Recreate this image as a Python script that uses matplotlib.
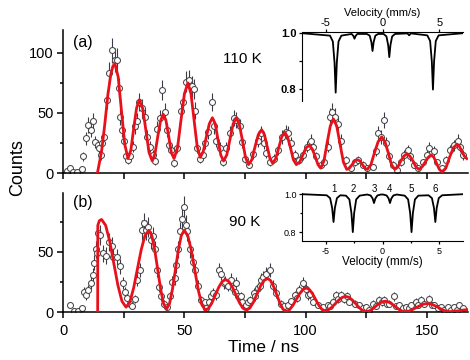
import numpy as np
import matplotlib
matplotlib.use('Agg')
import matplotlib.pyplot as plt
from matplotlib.ticker import MultipleLocator, FixedLocator

plt.rcParams['font.family'] = ['Liberation Sans', 'DejaVu Sans']

# ---- (a) 110 K : time spectrum, data points
t_a = [1.5, 2.9, 4.3, 5.8, 7.7, 8.4, 9.5, 10.4, 11.4, 12.5, 13.2, 14.3, 14.9, 15.5, 15.9, 16.8,
       18.2, 19.0, 20.3, 21.4, 22.3, 23.2, 23.7, 24.5, 25.3, 26.0, 26.9, 27.8, 28.7, 29.6, 30.6,
       31.4, 32.6, 33.7, 34.6, 35.8, 37.2, 38.0, 38.9, 39.9, 40.9, 42.0, 42.7, 43.6, 44.4, 45.8,
       47.2, 48.6, 49.5, 50.9, 51.9, 53.0, 53.9, 54.6, 55.4, 56.4, 57.7, 58.7, 59.8, 61.4, 62.3,
       63.2, 64.6, 66.0, 67.4, 68.7, 70.5, 71.4, 72.8, 73.8, 74.9, 76.5, 78.3, 80.4, 81.7, 82.7,
       83.8, 85.4, 86.8, 88.6, 90.4, 91.8, 92.7, 94.1, 95.5, 97.3, 98.9, 100.6, 102.1, 103.0,
       104.4, 106.2, 107.8, 109.2, 109.9, 111.0, 112.3, 113.3, 114.7, 116.7, 118.8, 120.6, 121.5,
       123.6, 125.5, 127.7, 129.1, 130.0, 131.1, 132.2, 133.2, 134.6, 135.9, 137.7, 139.4, 140.7,
       142.1, 143.2, 144.6, 146.5, 148.3, 150.1, 151.0, 152.8, 154.2, 156.1, 157.9, 159.7, 161.3,
       162.9, 163.8, 164.8]
counts_a = [2, 4, 0.5, 0.5, 3.5, 14, 29, 40, 36, 43, 26, 23, 21, 15, 25, 30,
            61, 83, 102, 94, 94, 71, 47, 36, 27, 14, 11, 14, 22, 39, 43,
            59, 54, 47, 30, 22, 15, 10, 37, 46, 69, 51, 36, 23, 19, 8,
            21, 52, 59, 76, 77, 72, 70, 52, 21, 12, 15, 25, 34, 59, 39,
            27, 21, 9, 21, 33, 46, 44, 39, 26, 12, 7, 16, 27, 33, 25,
            17, 9, 12, 19, 30, 34, 33, 25, 15, 11, 15, 22, 27, 22,
            14, 7, 9, 22, 47, 51, 47, 41, 27, 11, 4, 9, 11,
            7, 4, 5, 18, 33, 30, 44, 25, 14, 7, 2.5, 9, 15,
            19, 14, 7, 4, 9, 15, 21, 18, 9, 4, 11, 19, 23,
            27, 22, 15]

# (a) fit curve
fit_t_a = [14.2, 15.9, 17.2, 18.5, 19.7, 20.6, 21.4, 22.75, 24.1, 25.45, 26.8, 27.98, 29.15, 30.33,
           31.5, 32.83, 34.15, 35.48, 36.8, 37.93, 39.05, 40.18, 41.3, 42.43, 43.55, 44.68, 45.8,
           47.23, 48.65, 50.08, 51.5, 52.78, 54.05, 55.33, 56.6, 57.85, 59.1, 60.35, 61.6, 62.75,
           63.9, 65.05, 66.2, 67.53, 68.85, 70.18, 71.5, 72.75, 74.0, 75.25, 76.5, 77.85, 79.2,
           80.55, 81.9, 83.05, 84.2, 85.35, 86.5, 87.73, 88.95, 90.18, 91.4, 92.6, 93.8, 95.0,
           96.2, 97.55, 98.9, 100.25, 101.6, 102.78, 103.95, 105.13, 106.3, 107.6, 108.9, 110.2,
           111.5, 112.88, 114.25, 115.63, 117.0, 118.1, 119.2, 120.3, 121.4, 122.43, 123.45,
           124.48, 125.5, 126.98, 128.45, 129.93, 131.4, 132.75, 134.1, 135.45, 136.8, 138.05,
           139.3, 140.55, 141.8, 143.05, 144.3, 145.55, 146.8, 148.05, 149.3, 150.55, 151.8,
           152.93, 154.05, 155.18, 156.3, 157.85, 159.4, 160.95, 162.5, 163.5, 164.5, 165.5, 166.5]
fit_a = [0, 18, 40, 65, 82, 89, 91, 80, 52, 24, 12, 19, 37, 54,
         61, 54, 36, 17, 10, 16, 30, 43, 49, 44, 31, 17, 12,
         21, 44, 66, 75, 66, 44, 22, 13, 18, 30, 41, 46, 41,
         28, 15, 10, 15, 28, 41, 46, 40, 27, 13, 7, 11, 22,
         32, 36, 32, 22, 12, 8, 12, 21, 30, 34, 30, 21, 11,
         7, 9, 15, 21, 23, 20, 14, 7, 4, 10, 25, 39,
         45, 39, 24, 9, 3, 4, 7, 10, 11, 10, 7,
         4, 3, 7, 17, 26, 30, 26, 17, 7, 3, 5,
         10, 14, 16, 14, 10, 5, 3, 5, 9, 13, 15,
         13, 8, 3, 1, 4, 13, 21, 24, 22, 18, 14, 12]

# ---- (b) 90 K
t_b = [2.9, 4.5, 6.0, 7.7, 8.6, 9.5, 10.4, 11.4, 12.2, 12.9, 13.8, 14.1, 14.6, 15.2, 16.3, 17.7,
       19.0, 20.0, 20.7, 22.3, 23.5, 24.6, 25.5, 26.5, 27.6, 28.6, 29.6, 30.6, 31.7, 32.4, 33.3,
       34.2, 35.1, 36.1, 37.0, 37.9, 38.9, 39.7, 40.6, 41.6, 42.7, 44.0, 45.1, 46.1, 46.8, 47.4,
       48.1, 49.2, 49.8, 50.6, 51.2, 52.3, 53.4, 54.3, 55.7, 57.0, 58.4, 59.1, 60.3, 61.2, 61.8,
       63.0, 64.3, 65.3, 66.2, 67.0, 68.0, 69.1, 70.0, 70.8, 71.4, 72.2, 73.5, 73.8, 75.6, 76.3,
       77.0, 78.8, 79.0, 80.4, 81.1, 81.8, 82.4, 83.8, 85.5, 86.6, 88.0, 90.0, 91.0, 92.8, 94.0,
       95.5, 96.5, 97.5, 98.9, 100.0, 100.9, 102.0, 103.0, 105.1, 107.1, 109.2, 110.0, 111.2,
       112.6, 113.5, 114.7, 116.0, 117.0, 118.1, 120.2, 122.2, 123.5, 125.0, 126.3, 127.7, 129.0,
       130.5, 131.5, 132.5, 133.5, 134.6, 136.6, 137.5, 138.7, 140.0, 141.4, 142.5, 143.5, 145.5,
       146.5, 147.6, 149.0, 150.8, 152.0, 153.1, 154.5, 155.8, 157.0, 158.6, 160.0, 161.3, 162.5,
       163.4, 165.0]
counts_b = [6, 1, 1, 3.5, 17, 14, 18, 24, 31, 41, 52, 49, 66, 64, 49, 47,
            58, 55, 46, 46, 38, 24, 17, 12, 7, 5, 11, 27, 35, 68, 74,
            68, 71, 60, 63, 52, 35, 21, 13, 7, 4, 13, 25, 28, 39, 52,
            67, 77, 87, 72, 67, 52, 42, 35, 22, 10, 8, 3, 8, 13, 16,
            14, 35, 32, 24, 25, 22, 27, 20, 17, 24, 13, 13, 8.5, 6, 8.5,
            10, 16, 13, 20, 22, 27, 29, 32, 35, 22, 16, 7, 5, 6, 9,
            14, 12, 18, 24, 19, 14, 15, 8.5, 6, 4, 6, 5, 8.5,
            14, 11, 14, 11, 13, 8.5, 7, 6, 3, 4, 2, 7, 5,
            10, 8, 10, 7, 7, 13, 5, 6, 3, 4, 3, 6, 8.5,
            6, 10, 7, 11, 6, 6, 3, 4, 2, 4, 2, 4, 2,
            6, 3]

fit_t_b = [14.3, 14.35, 15.0, 15.9, 17.58, 19.27, 20.95, 22.63, 24.32, 26.0, 27.57, 29.13, 30.7,
           32.27, 33.83, 35.4, 36.62, 37.83, 39.05, 40.27, 41.48, 42.7, 43.92, 45.13, 46.35,
           47.57, 48.78, 50.0, 51.45, 52.9, 54.35, 55.8, 57.25, 58.7, 60.08, 61.47, 62.85, 64.23,
           65.62, 67.0, 68.43, 69.87, 71.3, 72.73, 74.17, 75.6, 77.05, 78.5, 79.95, 81.4, 82.85,
           84.3, 85.58, 86.87, 88.15, 89.43, 90.72, 92.0, 93.38, 94.77, 96.15, 97.53, 98.92,
           100.3, 101.58, 102.87, 104.15, 105.43, 106.72, 108.0, 109.43, 110.87, 112.3, 113.73,
           115.17, 116.6, 118.0, 119.4, 120.8, 122.2, 123.6, 125.0, 126.3, 127.6, 128.9, 130.2,
           131.5, 132.8, 134.17, 135.53, 136.9, 138.27, 139.63, 141.0, 142.55, 144.1, 145.65,
           147.2, 148.75, 150.3, 151.8, 153.3, 154.8, 156.3, 157.8, 159.3, 161.0, 163.0, 165.0, 167.0]
fit_b = [0, 72, 76, 77, 72.1, 58.8, 40.5, 22.3, 8.9, 4, 8.3, 20, 36,
         52, 63.7, 68, 63.6, 51.6, 35.3, 18.9, 6.9, 2.5, 6.9, 18.9, 35.3,
         51.6, 63.6, 68, 63.5, 51.4, 34.8, 18.1, 6.0, 1.5, 3.2, 7.9, 14.3, 20.6,
         25.3, 27, 25.3, 20.6, 14.3, 7.9, 3.2, 1.5, 3.3, 8.1, 14.8, 21.4, 26.2,
         28, 26.2, 21.1, 14.3, 7.4, 2.3, 0.5, 1.8, 5.4, 10.3, 15.1, 18.7,
         20, 18.7, 15.3, 10.5, 5.8, 2.3, 1, 1.8, 4, 7, 10,
         12.2, 13, 12.1, 9.8, 6.7, 3.5, 1.1, 0.3, 0.9, 2.5, 4.7, 6.8,
         8.4, 9, 8.4, 6.8, 4.7, 2.5, 0.9, 0.3, 0.7, 2.0, 3.7,
         5.3, 6.6, 7, 6.6, 5.3, 3.7, 2.0, 0.7, 0.3, 0.5, 1.0, 1.6, 2]

# ---- Moessbauer spectra in the insets
vel_a = [-7.2, -4.63, -4.38, -4.23, -4.13, -4.03, -3.88, -3.63, -2.72, -2.57, -2.47, -2.37, -2.22,
         -1.38, -1.13, -0.98, -0.88, -0.78, -0.63, -0.38, 0.1, 0.35, 0.5, 0.6, 0.7, 0.85, 1.1,
         2.2, 2.35, 2.5, 3.95, 4.2, 4.35, 4.45, 4.55, 4.7, 4.95, 7.2]
trans_a = [1.0, 0.991, 0.970, 0.894, 0.787, 0.894, 0.970, 0.991, 0.997, 0.99, 0.98, 0.99, 0.997,
           0.997, 0.991, 0.968, 0.936, 0.968, 0.991, 0.997, 0.997, 0.988, 0.957, 0.914, 0.957, 0.988, 0.997,
           0.999, 0.992, 0.999, 0.992, 0.972, 0.899, 0.798, 0.899, 0.972, 0.992, 1.0]

vel_b = [-7.2, -4.92, -4.62, -4.44, -4.32, -4.20, -4.02, -3.72, -3.22, -2.92, -2.74, -2.62, -2.5,
         -2.32, -2.02, -1.35, -1.05, -0.87, -0.75, -0.63, -0.45, -0.15, 0.06, 0.36, 0.54, 0.66,
         0.78, 0.96, 1.26, 1.96, 2.26, 2.44, 2.56, 2.68, 2.86, 3.16, 4.06, 4.36, 4.54, 4.66, 4.78,
         4.96, 5.26, 7.2]
trans_b = [1.0, 0.994, 0.979, 0.927, 0.853, 0.927, 0.979, 0.994, 0.992, 0.972, 0.9, 0.8, 0.9,
           0.972, 0.992, 0.998, 0.993, 0.977, 0.953, 0.977, 0.993, 0.998, 0.998, 0.993, 0.977, 0.953,
           0.977, 0.993, 0.998, 0.992, 0.972, 0.9, 0.8, 0.9, 0.972, 0.992, 0.994, 0.979, 0.927, 0.853, 0.927,
           0.979, 0.994, 1.0]
line_pos_b = [-4.32, -2.62, -0.75, 0.66, 2.56, 4.66]
line_names = ['1', '2', '3', '4', '5', '6']

fig = plt.figure(figsize=(4.7, 3.6), dpi=100)
ax1 = fig.add_axes([63/470, 1-173/360, 405/470, 143/360])
ax2 = fig.add_axes([63/470, 1-312/360, 405/470, 119/360])


def time_panel(ax, t, y, ft, fy, ymax):
    ax.errorbar(t, y, yerr=np.sqrt(y), fmt='none', ecolor='#3c3c48', elinewidth=0.8, zorder=1)
    ax.plot(t, y, 'o', ms=4.3, mfc='white', mec='#484848', mew=0.75, zorder=2)
    ax.plot(ft, fy, color='#e8101a', lw=2.0, zorder=3)
    ax.set_xlim(0, 167)
    ax.set_ylim(0, ymax)
    for s in ['top', 'right']:
        ax.spines[s].set_visible(False)
    for s in ['left', 'bottom']:
        ax.spines[s].set_linewidth(1.1)
    ax.xaxis.set_major_locator(MultipleLocator(50))
    ax.xaxis.set_minor_locator(MultipleLocator(25))
    ax.yaxis.set_major_locator(MultipleLocator(50))
    ax.yaxis.set_minor_locator(MultipleLocator(25))
    ax.tick_params(which='major', direction='out', length=4.5, width=1.1, labelsize=10.5, pad=2)
    ax.tick_params(which='minor', direction='out', width=1.1)
    ax.tick_params(axis='x', which='minor', length=4.5)
    ax.tick_params(axis='y', which='minor', length=2.5)


time_panel(ax1, t_a, counts_a, fit_t_a, fit_a, 119)
time_panel(ax2, t_b, counts_b, fit_t_b, fit_b, 99)
ax1.tick_params(axis='x', labelbottom=False)
ax2.tick_params(axis='x', pad=4)

ax1.text(0.025, 0.91, '(a)', transform=ax1.transAxes, fontsize=11.5, va='center')
ax1.text(0.395, 0.80, '110 K', transform=ax1.transAxes, fontsize=11, va='center')
ax2.text(0.025, 0.92, '(b)', transform=ax2.transAxes, fontsize=11.5, va='center')
ax2.text(0.41, 0.76, '90 K', transform=ax2.transAxes, fontsize=11, va='center')

fig.text(0.038, 0.535, 'Counts', rotation=90, ha='center', va='center', fontsize=13)
fig.text(0.56, 0.036, 'Time / ns', ha='center', va='center', fontsize=12.5)

# inset (a): velocity axis on top
ia = fig.add_axes([302/470, 1-101/360, 161/470, 69/360])
ia.patch.set_alpha(0)
ia.plot(vel_a, trans_a, color='black', lw=1.3)
ia.set_xlim(-7.1, 7.1)
ia.set_ylim(0.757, 1.004)
ia.spines['right'].set_visible(False)
ia.spines['bottom'].set_visible(False)
ia.xaxis.tick_top()
ia.xaxis.set_label_position('top')
ia.set_xlabel('Velocity (mm/s)', fontsize=8, labelpad=1.2)
ia.set_xticks([-5, 0, 5])
ia.set_xticklabels(['-5', '0', '5'])
ia.set_yticks([0.8, 1.0])
ia.set_yticklabels(['0.8', '1.0'], fontweight='bold')
ia.yaxis.set_minor_locator(FixedLocator([0.9]))
ia.tick_params(which='both', direction='out', labelsize=8, pad=1.5, length=2.5, width=0.9)
ia.tick_params(axis='x', pad=0.5)
ia.tick_params(which='minor', length=2)

# inset (b): velocity axis at the bottom, line numbers
ib = fig.add_axes([302/470, 1-241/360, 161/470, 48/360])
ib.patch.set_alpha(0)
ib.plot(vel_b, trans_b, color='black', lw=1.3)
ib.set_xlim(-7.1, 7.1)
ib.set_ylim(0.753, 1.006)
ib.spines['right'].set_visible(False)
ib.spines['top'].set_visible(False)
ib.set_xlabel('Velocity (mm/s)', fontsize=8.5, labelpad=0.5)
ib.set_xticks([-5, 0, 5])
ib.set_xticklabels(['-5', '0', '5'])
ib.xaxis.set_minor_locator(FixedLocator([-2.5, 2.5]))
ib.set_yticks([0.8, 1.0])
ib.set_yticklabels(['0.8', '1.0'])
ib.yaxis.set_minor_locator(FixedLocator([0.9]))
ib.tick_params(which='both', direction='out', labelsize=6.5, pad=1.5, length=2.5, width=0.9)
ib.tick_params(which='minor', length=1.5)
for v, name in zip(line_pos_b, line_names):
    ib.annotate(name, (v, 1.0), xytext=(0, 4), textcoords='offset points',
                ha='center', va='center', fontsize=7)

fig.savefig('out.png', dpi=100)
